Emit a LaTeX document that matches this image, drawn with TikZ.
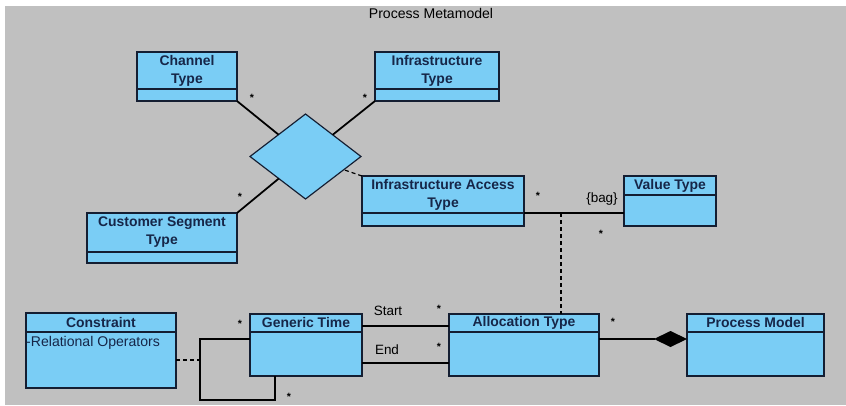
\documentclass[tikz,border=0pt]{standalone}
\usepackage{fontspec}
\setmainfont{Liberation Sans}
\usetikzlibrary{arrows.meta,shapes.geometric}
\definecolor{umlfill}{RGB}{122,205,245}
\definecolor{umlline}{RGB}{20,30,50}
\definecolor{umltext}{RGB}{22,38,72}
\definecolor{canvas}{RGB}{192,192,192}
\tikzset{classhead/.style={draw=umlline,fill=umlfill,line width=1pt,inner sep=0pt,outer sep=0pt,
  align=center,text=umltext,font=\bfseries\fontsize{11.9}{15.3}\selectfont},
 classbody/.style={draw=umlline,fill=umlfill,line width=1pt,inner sep=0pt,outer sep=0pt},
 assoc/.style={diamond,draw=umlline,fill=umlfill,line width=1pt,inner sep=0pt,outer sep=0pt},
 link/.style={line width=1pt,black},
 heavy/.style={line width=1.5pt,black},
 dashedlink/.style={line width=1pt,black,dash pattern=on 1.2mm off .9mm},
 mult/.style={font=\bfseries\fontsize{9}{10}\selectfont,inner sep=0pt},
 rolelabel/.style={font=\fontsize{11.5}{13}\selectfont,inner sep=0pt}}
\newcommand{\umlclass}[7]{% name, left x, top y, width, head height, body height, title
 \node[classhead,minimum width=#4*.3mm,minimum height=#5*.3mm,anchor=north west] (#1) at (#2,#3) {#7};
 \node[classbody,minimum width=#4*.3mm,minimum height=#6*.3mm,anchor=north] (#1b) at (#1.south) {};
}

\begin{document}
\begin{tikzpicture}[x=.3mm,y=-.3mm]
 \useasboundingbox (0,0) rectangle (846,405);
 \fill[canvas] (5,6) rectangle (846,405);
 \node[font=\fontsize{12}{14}\selectfont] (title) at (431,13) {Process Metamodel};

 \umlclass{chan}{137}{52}{100}{37}{12}{Channel\\Type}
 \umlclass{infra}{375}{52}{124}{37}{12}{Infrastructure\\Type}
 \umlclass{cust}{87}{213}{150}{39}{11}{Customer Segment\\Type}
 \umlclass{iat}{362}{176}{162}{37}{13}{Infrastructure Access\\Type}
 \umlclass{val}{624}{176}{92}{19}{31}{Value Type}
 \umlclass{con}{26}{313}{150}{19}{56}{Constraint}
 \umlclass{gt}{250}{314}{112}{18}{44}{Generic Time}
 \umlclass{alloc}{449}{314}{150}{18}{44}{Allocation Type}
 \umlclass{pm}{687}{314}{137}{18}{44}{Process Model}
 \node[text=umltext,font=\fontsize{12}{14}\selectfont,inner sep=0pt,anchor=north west] (conattr)
  at ([yshift=-1.1mm]conb.north west) {-Relational Operators};

 % n-ary association
 \node[assoc,minimum width=111*.3mm,minimum height=85*.3mm] (rel) at (305.5,156.5) {};
 \draw[heavy] (chanb.south east) -- (rel);
 \draw[heavy] (infrab.south west) -- (rel);
 \draw[heavy] (cust.north east) -- (rel);
 \draw[dashedlink] (iat.north west) -- (rel);

 % association class
 \draw[link] (iat.south east) -- (iat.south east -| valb.west);
 \coordinate (bagpt) at (561,213);
 \draw[dashedlink] (bagpt) -- (bagpt |- alloc.north);

 % start / end
 \coordinate (startl) at ([yshift=-.9mm]gt.east);
 \draw[link] (startl) -- (startl -| alloc.west);
 \coordinate (endl) at ([yshift=-2.7mm]gtb.east);
 \draw[link] (endl) -- (endl -| allocb.west);

 % self association and constraint
 \coordinate (loopl) at ([yshift=-2.1mm]gtb.north west);
 \draw[link] (loopl) -- ++(-50,0) coordinate (loopc) -- ++(0,61) -| ([xshift=7.5mm]gtb.south west);
 \draw[dashedlink] (conb.east) -- (conb.east -| loopc);

 % composition
 \coordinate (compl) at ([yshift=-2.1mm]allocb.north east);
 \draw[link,-{Diamond[length=9.9mm,width=4.8mm]}] (compl) -- (compl -| pmb.west);

 \node[rolelabel] (startlbl) at (388,311) {Start};
 \node[rolelabel] (endlbl) at (387,350) {End};
 \node[rolelabel] (baglbl) at (602,199) {\{bag\}};

 \node[mult] (m1) at (252,98) {*};
 \node[mult] (m2) at (365,98) {*};
 \node[mult] (m3) at (240,197) {*};
 \node[mult] (m4) at (538,196) {*};
 \node[mult] (m5) at (601,234) {*};
 \node[mult] (m6) at (240,324) {*};
 \node[mult] (m7) at (289,397) {*};
 \node[mult] (m8) at (439,309) {*};
 \node[mult] (m9) at (439,347) {*};
 \node[mult] (m10) at (613,322) {*};
\end{tikzpicture}
\end{document}
